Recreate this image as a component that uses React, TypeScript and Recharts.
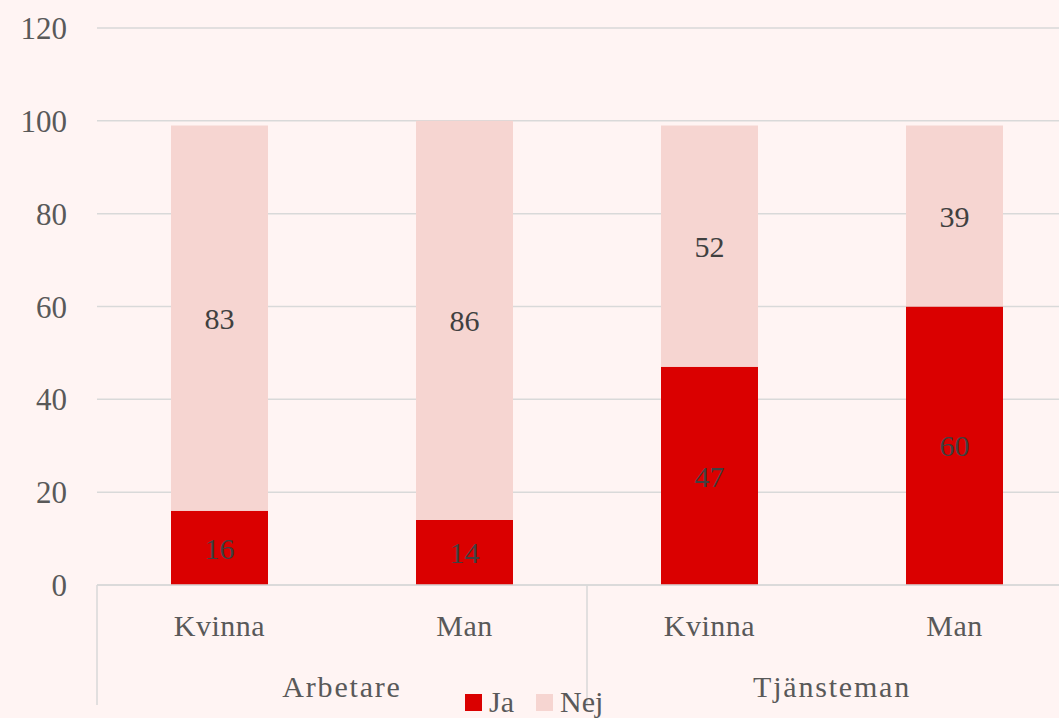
import { BarChart, Bar, XAxis, YAxis, CartesianGrid, Legend, LabelList } from 'recharts';

const groups = ['Arbetare', 'Arbetare', 'Tjänsteman', 'Tjänsteman'];
const subCategories = ['Kvinna', 'Man', 'Kvinna', 'Man'];
const jaValues = [16, 14, 47, 60];
const nejValues = [83, 86, 52, 39];
const yTicks = [0, 20, 40, 60, 80, 100, 120];

const BG = '#FFF4F3';
const RED = '#DA0000';
const PINK = '#F6D5D1';
const GRID = '#D9D9D9';
const TEXT = '#595959';
const FONT = '"Liberation Serif", "Times New Roman", serif';

const data = subCategories.map((sub, i) => ({
  sub,
  group: groups[i],
  ja: jaValues[i],
  nej: nejValues[i],
}));

const CHART_W = 1080;
const CHART_H = 760;
const MARGIN = { top: 28, right: 3, left: 0, bottom: 45 };
const Y_W = 97;
const BAND = (CHART_W - MARGIN.left - MARGIN.right - Y_W) / data.length;

function CategoryTick(props: any) {
  const { x, y, index, payload } = props;
  const i = index ?? payload?.index ?? 0;
  const isGroupStart = i === 0 || groups[i] !== groups[i - 1];
  const isLast = i === data.length - 1;
  return (
    <g>
      <text x={x} y={y} dy={51} textAnchor="middle" fill={TEXT} fontSize={30} fontFamily={FONT} letterSpacing={0.5}>
        {subCategories[i]}
      </text>
      {isGroupStart && (
        <>
          <line x1={x - BAND / 2} y1={y} x2={x - BAND / 2} y2={y + 120} stroke={GRID} strokeWidth={1.5} />
          <text x={x + BAND / 2} y={y} dy={112} textAnchor="middle" fill={TEXT} fontSize={30} fontFamily={FONT} letterSpacing={1.8}>
            {groups[i]}
          </text>
        </>
      )}
      {isLast && <line x1={x + BAND / 2} y1={y} x2={x + BAND / 2} y2={y + 120} stroke={GRID} strokeWidth={1.5} />}
    </g>
  );
}

function LegendContent() {
  const items = [
    { name: 'Ja', color: RED },
    { name: 'Nej', color: PINK },
  ];
  return (
    <div style={{ display: 'flex', alignItems: 'center', gap: 22, fontFamily: FONT, fontSize: 30, color: TEXT }}>
      {items.map(it => (
        <div key={it.name} style={{ display: 'flex', alignItems: 'center', gap: 7 }}>
          <span style={{ display: 'inline-block', width: 17, height: 17, background: it.color }} />
          <span style={{ lineHeight: '30px' }}>{it.name}</span>
        </div>
      ))}
    </div>
  );
}

export default function App() {
  return (
    <div style={{ width: 1059, height: 718, overflow: 'hidden', background: BG, position: 'relative' }}>
      <style>{'body{margin:0;}'}</style>
      <BarChart width={CHART_W} height={CHART_H} data={data} margin={MARGIN} barCategoryGap={74}>
        <CartesianGrid vertical={false} stroke={GRID} strokeWidth={1.5} />
        <XAxis
          dataKey="sub"
          axisLine={{ stroke: GRID, strokeWidth: 1.5 }}
          tickLine={false}
          tickSize={0}
          tickMargin={0}
          height={130}
          interval={0}
          tick={<CategoryTick />}
        />
        <YAxis
          width={Y_W}
          domain={[0, 120]}
          ticks={yTicks}
          axisLine={false}
          tickLine={false}
          tickSize={0}
          tickMargin={30}
          tick={{ fill: TEXT, fontSize: 31, fontFamily: FONT }}
        />
        <Legend
          layout="vertical"
          align="center"
          verticalAlign="middle"
          content={<LegendContent />}
          wrapperStyle={{ left: 465, top: 687, width: 'auto' }}
        />
        <Bar dataKey="ja" name="Ja" stackId="a" fill={RED} isAnimationActive={false}>
          <LabelList dataKey="ja" position="center" fill="#404040" fontSize={30} fontFamily={FONT} />
        </Bar>
        <Bar dataKey="nej" name="Nej" stackId="a" fill={PINK} isAnimationActive={false}>
          <LabelList dataKey="nej" position="center" fill="#404040" fontSize={30} fontFamily={FONT} />
        </Bar>
      </BarChart>
    </div>
  );
}
